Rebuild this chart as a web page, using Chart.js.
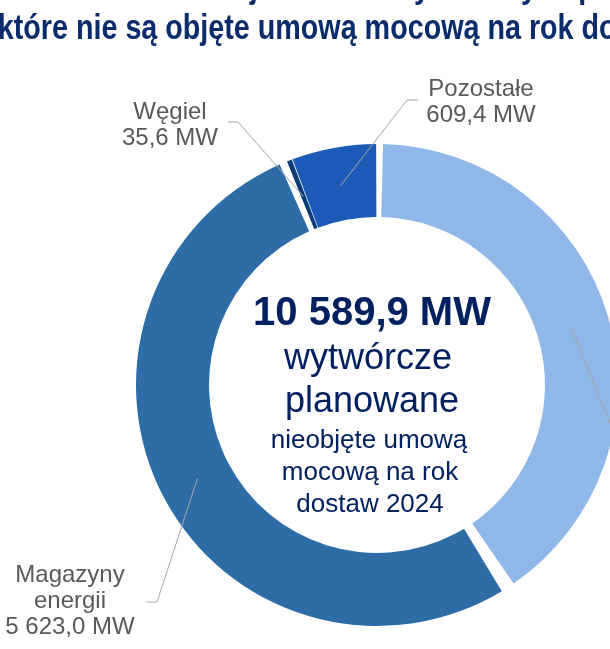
<!DOCTYPE html>
<html lang="pl">
<head>
<meta charset="utf-8">
<script src="https://cdn.jsdelivr.net/npm/chart.js@4.4.1/dist/chart.umd.min.js"></script>
<style>
  html, body { margin: 0; padding: 0; background: #fff; width: 610px; height: 649px; overflow: hidden; }
  #moc { position: absolute; left: 0; top: 0; }
</style>
</head>
<body>
<canvas id="moc" width="800" height="649"></canvas>
<script>
// dane z wykresu (MW)
const kategorie = ['OZE', 'Magazyny energii', 'Węgiel', 'Pozostałe'];
const mocMW = [4321.9, 5623.0, 35.6, 609.4];
const kolory = ['#8fb7e8', '#2e6ca8', '#0b3a78', '#1c5bb8'];
const sumaMW = 10589.9;
const tytul = ['Moc zainstalowana jednostek wytwórczych planowanych,', 'które nie są objęte umową mocową na rok dostaw 2024'];
const srodek = ['wytwórcze', 'planowane', 'nieobjęte umową', 'mocową na rok', 'dostaw 2024'];

const FONT = "'Liberation Sans', Arial, sans-serif";
const ZWEZENIE = 0.82; // tytul jest w waskim kroju, nie ma go tu wiec sciskam w poziomie

// 10589.9 -> "10 589,9 MW"
function formatMW(v) {
  const [c, u] = v.toFixed(1).split('.');
  return c.replace(/\B(?=(\d{3})+(?!\d))/g, ' ') + ',' + u + ' MW';
}

// gdzie stoja podpisy (linie tekstu + lamana linii odniesienia)
const podpisy = [
  { linie: ['OZE'], x: 637, y: [452, 478], lamana: [[633, 455], [623, 455]], align: 'left' },
  { linie: ['Magazyny', 'energii'], x: 70, y: [582, 608, 634], lamana: [[147, 602], [157, 602]], align: 'center' },
  { linie: ['Węgiel'], x: 170, y: [119, 145], lamana: [[228, 122], [238, 122]], align: 'center' },
  { linie: ['Pozostałe'], x: 481, y: [96, 122], lamana: [[418, 100], [407, 100]], align: 'center' }
];

const etykiety = {
  id: 'etykiety',
  afterDatasetsDraw(chart) {
    const ctx = chart.ctx;
    const arcs = chart.getDatasetMeta(0).data;
    ctx.save();
    arcs.forEach((arc, i) => {
      const p = podpisy[i];
      const { x, y, startAngle, endAngle, innerRadius, outerRadius } = arc.getProps(['x', 'y', 'startAngle', 'endAngle', 'innerRadius', 'outerRadius']);
      const kat = (startAngle + endAngle) / 2;
      const r = (innerRadius + outerRadius) / 2 + 2;
      // linia odniesienia
      ctx.strokeStyle = '#a6a6a6';
      ctx.lineWidth = 1;
      ctx.beginPath();
      ctx.moveTo(p.lamana[0][0], p.lamana[0][1]);
      ctx.lineTo(p.lamana[1][0], p.lamana[1][1]);
      ctx.lineTo(x + Math.cos(kat) * r, y + Math.sin(kat) * r);
      ctx.stroke();
      // tekst
      ctx.fillStyle = '#595959';
      ctx.font = '24px ' + FONT;
      ctx.textAlign = p.align;
      ctx.textBaseline = 'alphabetic';
      const linie = p.linie.concat([formatMW(mocMW[i])]);
      linie.forEach((t, j) => ctx.fillText(t, p.x, p.y[j]));
    });
    ctx.restore();
  },
  afterDraw(chart) {
    const ctx = chart.ctx;
    ctx.save();
    ctx.fillStyle = '#0b2c6a';
    ctx.textAlign = 'center';
    ctx.textBaseline = 'alphabetic';
    // tytul (ucięty u gory)
    ctx.save();
    ctx.scale(ZWEZENIE, 1);
    ctx.font = 'bold 35px ' + FONT;
    ctx.fillText(tytul[0], 375 / ZWEZENIE, -2);
    ctx.fillText(tytul[1], 375 / ZWEZENIE, 39);
    ctx.restore();
    // opis w srodku pierscienia
    ctx.fillStyle = '#002060';
    ctx.font = 'bold 40px ' + FONT;
    ctx.fillText(formatMW(sumaMW), 372, 325);
    ctx.font = '36px ' + FONT;
    ctx.fillText(srodek[0], 368, 369);
    ctx.fillText(srodek[1], 372, 412);
    ctx.font = '26px ' + FONT;
    ctx.fillText(srodek[2], 369, 448);
    ctx.fillText(srodek[3], 370, 480);
    ctx.fillText(srodek[4], 370, 512);
    ctx.restore();
  }
};

new Chart(document.getElementById('moc'), {
  type: 'doughnut',
  data: {
    labels: kategorie,
    datasets: [{
      data: mocMW,
      backgroundColor: kolory,
      borderWidth: 0,
      spacing: 8
    }]
  },
  options: {
    responsive: false,
    animation: false,
    events: [],
    radius: 237,
    cutout: '69.2%',
    layout: { padding: { left: 0, right: 46, top: 121, bottom: 0 } },
    plugins: {
      legend: { display: false },
      tooltip: { enabled: false },
      title: { display: false }
    }
  },
  plugins: [etykiety]
});
</script>
</body>
</html>
